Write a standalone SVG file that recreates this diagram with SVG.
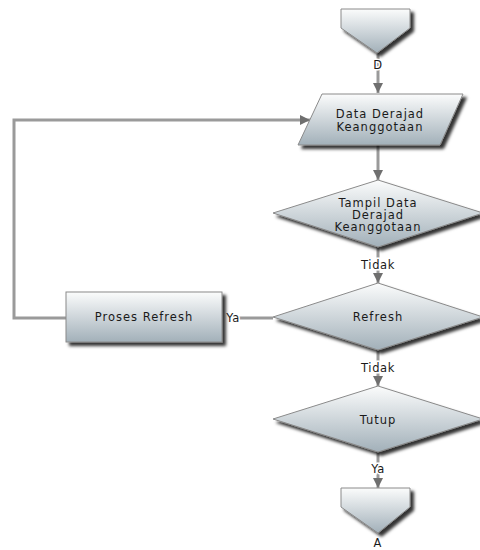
<svg xmlns="http://www.w3.org/2000/svg" width="480" height="550" viewBox="0 0 480 550">
  <defs>
    <linearGradient id="shade" x1="0" y1="0" x2="0" y2="1">
      <stop offset="0" stop-color="#fbfcfc"/>
      <stop offset="1" stop-color="#a2b0b9"/>
    </linearGradient>
    <filter id="drop" x="-20%" y="-20%" width="150%" height="160%">
      <feDropShadow dx="3.5" dy="3.5" stdDeviation="1.6" flood-color="#000" flood-opacity="0.8"/>
    </filter>
    <marker id="arrow" viewBox="0 0 10 10" refX="10" refY="5" markerWidth="10" markerHeight="10" markerUnits="userSpaceOnUse" orient="auto">
      <path d="M0,0 L10,5 L0,10 z" fill="#6f6f6f"/>
    </marker>
  </defs>
  <style>
    .shape { fill: url(#shade); stroke: #8a8a8a; stroke-width: 1; filter: url(#drop); }
    .link { fill: none; stroke: #9a9a9a; stroke-width: 3; }
    .label { font-family: "DejaVu Sans", Verdana, sans-serif; font-size: 11.5px; letter-spacing: 1px; fill: #1a1a1a; text-anchor: middle; }
    .tag { font-family: "DejaVu Sans", Verdana, sans-serif; font-size: 11.5px; letter-spacing: 0.6px; fill: #1a1a1a; text-anchor: middle; stroke: #fff; stroke-width: 3; paint-order: stroke; }
  </style>

  <rect width="480" height="550" fill="#fff"/>

  <!-- connectors -->
  <g id="connectors">
    <path class="link" d="M378,53 V93" marker-end="url(#arrow)"/>
    <path class="link" d="M378,145 V180" marker-end="url(#arrow)"/>
    <path class="link" d="M378,247 V283" marker-end="url(#arrow)"/>
    <path class="link" d="M378,350 V386" marker-end="url(#arrow)"/>
    <path class="link" d="M378,452 V488" marker-end="url(#arrow)"/>
    <path class="link" d="M273,318 H232"/>
    <path class="link" d="M66,318 H14 V120 H310" marker-end="url(#arrow)"/>
    <text class="tag" x="378" y="69">D</text>
    <text class="tag" x="378" y="269">Tidak</text>
    <text class="tag" x="378" y="372">Tidak</text>
    <text class="tag" x="378" y="473">Ya</text>
    <text class="tag" x="233" y="322">Ya</text>
  </g>

  <!-- off-page connector D -->
  <g id="connector-d">
    <path class="shape" d="M341,9 H410 V28 L377,53 L341,28 Z"/>
  </g>

  <!-- input: Data Derajad Keanggotaan -->
  <g id="data-derajad">
    <path class="shape" d="M322,94 H463 L440,145 H298 Z"/>
    <text class="label" x="380" y="118">Data Derajad</text>
    <text class="label" x="380" y="130.5">Keanggotaan</text>
  </g>

  <!-- decision: Tampil Data Derajad Keanggotaan -->
  <g id="tampil-data">
    <path class="shape" d="M378,180 L483,213 L378,247 L273,213 Z"/>
    <text class="label" x="378" y="206.5">Tampil Data</text>
    <text class="label" x="378" y="218.5">Derajad</text>
    <text class="label" x="378" y="230.5">Keanggotaan</text>
  </g>

  <!-- decision: Refresh -->
  <g id="refresh">
    <path class="shape" d="M378,283 L483,317 L378,350 L273,317 Z"/>
    <text class="label" x="378" y="321">Refresh</text>
  </g>

  <!-- process: Proses Refresh -->
  <g id="proses-refresh">
    <rect class="shape" x="66" y="292" width="156" height="50"/>
    <text class="label" x="144" y="321">Proses Refresh</text>
  </g>

  <!-- decision: Tutup -->
  <g id="tutup">
    <path class="shape" d="M378,386 L483,419 L378,452 L273,419 Z"/>
    <text class="label" x="378" y="424">Tutup</text>
  </g>

  <!-- off-page connector A -->
  <g id="connector-a">
    <path class="shape" d="M341,488 H410 V507 L378,533 L341,507 Z"/>
    <text class="label" x="378" y="547">A</text>
  </g>
</svg>
